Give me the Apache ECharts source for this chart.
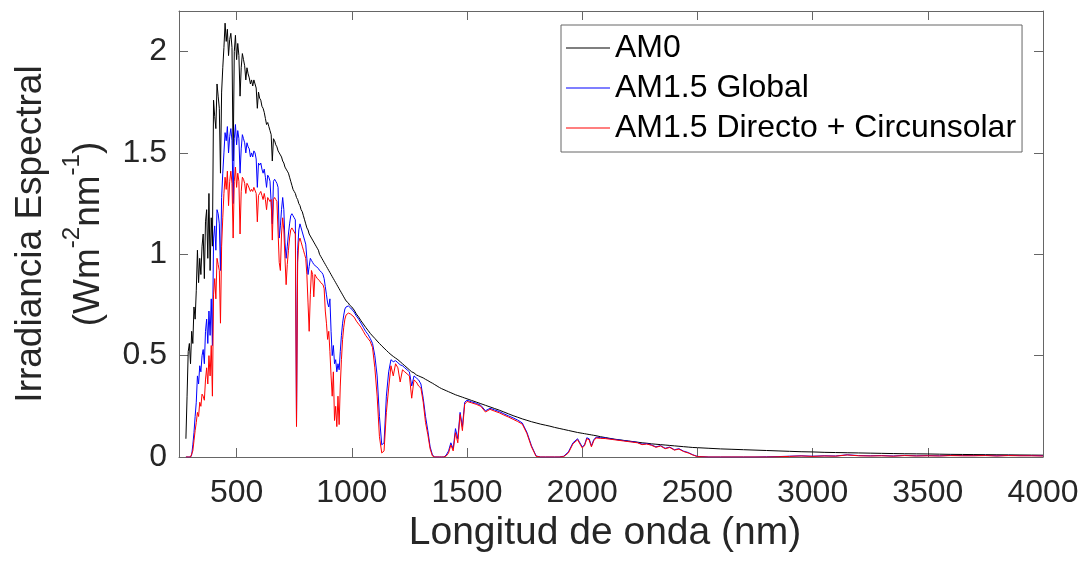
<!DOCTYPE html>
<html>
<head>
<meta charset="utf-8">
<script src="https://cdn.jsdelivr.net/npm/echarts@6/dist/echarts.min.js"></script>
<style>
html,body{margin:0;padding:0;background:#fff;}
#chart{width:1085px;height:563px;}
</style>
</head>
<body>
<div id="chart"></div>
<script>
// ---- Data ----
const wavelength = [
  280,285,290,295,300,305,310,315,320,325,
  330,335,340,345,350,355,360,365,370,375,
  380,385,390,395,400,405,410,415,420,425,
  430,435,440,445,450,455,460,465,470,475,
  480,485,490,495,500,505,510,515,520,525,
  530,535,540,545,550,555,560,565,570,575,
  580,585,590,595,600,605,610,615,620,625,
  630,635,640,645,650,655,660,665,670,675,
  680,685,690,695,700,705,710,715,720,725,
  730,735,740,745,750,755,760,765,770,775,
  780,785,790,795,800,805,810,815,820,825,
  830,835,840,845,850,855,860,865,870,875,
  880,885,890,895,900,905,910,915,920,925,
  930,935,940,945,950,955,960,965,970,975,
  980,985,990,995,
  1000,1010,1020,1030,1040,1050,1060,1070,1080,1090,
  1100,1110,1120,1130,1140,1150,1160,1170,1180,1190,
  1200,1210,1220,1230,1240,1250,1260,1270,1280,1290,
  1300,1310,1320,1330,1340,1350,1360,1370,1380,1390,
  1400,1410,1420,1430,1440,1450,1460,1470,1480,1490,
  1500,1520,1540,1560,1580,1600,1620,1640,1660,1680,
  1700,1720,1740,1760,1780,1800,1820,1840,1860,1880,
  1900,1920,1940,1960,1980,
  2000,2010,2020,2030,2040,2050,2060,
  2080,2100,2120,2140,2160,2180,2200,2220,2240,2260,
  2280,2300,2320,2340,2360,2380,2400,2420,2440,2460,
  2480,2500,
  2550,2600,2650,2700,2750,2800,2850,2900,2950,3000,
  3050,3100,3150,3200,3250,3300,3350,3400,3450,3500,
  3550,3600,3650,3700,3750,3800,3850,3900,3950,4000
];

const am0 = [
  0.09,0.30,0.52,0.56,0.46,0.62,0.56,0.74,0.68,0.82,
  1.02,0.86,0.98,0.90,1.04,1.10,0.88,1.16,1.22,0.98,
  1.30,0.92,1.18,1.04,1.76,1.68,1.62,1.84,1.78,1.72,
  1.40,1.80,1.92,2.02,2.14,2.05,2.11,1.98,2.06,2.09,
  2.02,1.46,2.00,2.08,1.96,2.04,1.98,1.78,1.92,1.99,
  1.96,1.93,1.86,1.92,1.89,1.87,1.84,1.86,1.83,1.86,
  1.84,1.82,1.72,1.80,1.77,1.76,1.73,1.72,1.70,1.67,
  1.64,1.65,1.63,1.61,1.59,1.46,1.57,1.56,1.54,1.53,
  1.51,1.50,1.49,1.48,1.46,1.45,1.43,1.42,1.41,1.40,
  1.38,1.36,1.34,1.32,1.31,1.30,1.28,1.27,1.25,1.24,
  1.22,1.21,1.19,1.17,1.15,1.13,1.12,1.10,1.09,1.08,
  1.07,1.06,1.05,1.04,1.03,1.02,1.00,0.99,0.98,0.97,
  0.96,0.95,0.94,0.93,0.92,0.91,0.90,0.89,0.88,0.87,
  0.86,0.85,0.84,0.83,0.82,0.81,0.80,0.79,0.78,0.77,
  0.765,0.76,0.75,0.745,
  0.74,0.725,0.705,0.69,0.672,0.656,0.64,0.625,0.61,0.597,
  0.585,0.572,0.56,0.548,0.537,0.526,0.515,0.505,0.496,0.488,
  0.48,0.47,0.46,0.45,0.44,0.43,0.42,0.415,0.405,0.40,
  0.395,0.39,0.383,0.377,0.37,0.364,0.357,0.35,0.343,0.337,
  0.332,0.327,0.322,0.317,0.312,0.307,0.303,0.299,0.295,0.291,
  0.287,0.279,0.271,0.263,0.255,0.247,0.239,0.231,0.222,0.213,
  0.204,0.196,0.188,0.181,0.174,0.168,0.162,0.157,0.152,0.146,
  0.141,0.136,0.131,0.126,0.121,
  0.117,0.115,0.113,0.111,0.109,0.107,0.105,
  0.100,0.096,0.092,0.088,0.085,0.082,0.079,0.076,0.073,0.070,
  0.068,0.065,0.063,0.061,0.059,0.057,0.055,0.053,0.051,0.049,
  0.047,0.046,
  0.043,0.040,0.038,0.036,0.034,0.032,0.030,0.028,0.026,0.025,
  0.023,0.022,0.021,0.020,0.019,0.018,0.017,0.016,0.0155,0.015,
  0.014,0.013,0.0125,0.012,0.0115,0.011,0.0105,0.010,0.0095,0.009
];

const am15Global = [
  0,0,0,0,0,0.01,0.06,0.12,0.20,0.27,
  0.40,0.36,0.45,0.42,0.50,0.53,0.46,0.62,0.68,0.56,
  0.72,0.60,0.78,0.55,1.08,1.14,1.02,1.22,1.20,1.15,
  0.92,1.28,1.40,1.50,1.60,1.56,1.63,1.50,1.58,1.62,
  1.56,1.25,1.57,1.64,1.54,1.61,1.57,1.40,1.52,1.59,
  1.57,1.55,1.50,1.55,1.53,1.52,1.48,1.50,1.48,1.51,
  1.50,1.47,1.33,1.45,1.44,1.45,1.42,1.40,1.42,1.38,
  1.33,1.39,1.38,1.36,1.36,1.15,1.36,1.37,1.36,1.35,
  1.33,1.08,1.14,1.22,1.28,1.22,1.06,0.98,1.04,1.10,
  1.15,1.19,1.20,1.19,1.18,1.17,0.16,1.02,1.12,1.15,
  1.13,1.11,1.09,1.07,1.05,0.98,0.90,0.94,0.98,0.97,
  0.96,0.95,0.95,0.94,0.94,0.93,0.92,0.92,0.91,0.90,
  0.88,0.84,0.80,0.76,0.74,0.78,0.62,0.50,0.55,0.46,
  0.48,0.42,0.46,0.43,0.52,0.60,0.66,0.70,0.73,0.74,
  0.74,0.745,0.74,0.735,
  0.73,0.715,0.695,0.68,0.66,0.64,0.62,0.605,0.585,0.56,
  0.50,0.40,0.20,0.06,0.07,0.30,0.42,0.48,0.47,0.475,
  0.465,0.455,0.45,0.44,0.43,0.42,0.35,0.40,0.39,0.38,
  0.36,0.29,0.20,0.13,0.05,0.01,0,0,0,0,
  0,0.01,0.03,0.07,0.04,0.14,0.09,0.22,0.15,0.27,
  0.28,0.272,0.265,0.255,0.228,0.24,0.232,0.224,0.213,0.203,
  0.193,0.182,0.168,0.122,0.055,0.005,0,0,0,0,
  0,0.004,0.025,0.07,0.09,
  0.05,0.06,0.095,0.09,0.055,0.085,0.098,
  0.095,0.094,0.09,0.087,0.084,0.081,0.078,0.075,0.072,0.063,
  0.066,0.06,0.05,0.056,0.043,0.049,0.036,0.041,0.029,0.022,
  0.011,0.003,
  0,0,0,0,0,0.001,0.002,0.004,0.006,0.004,
  0.006,0.005,0.011,0.007,0.006,0.007,0.005,0.008,0.006,0.007,
  0.006,0.008,0.007,0.007,0.008,0.006,0.008,0.007,0.007,0.006
];

const am15Direct = [
  0,0,0,0,0,0,0.03,0.08,0.13,0.17,
  0.22,0.20,0.27,0.25,0.31,0.30,0.28,0.38,0.44,0.36,
  0.50,0.40,0.55,0.30,0.80,0.88,0.78,0.98,0.95,0.92,
  0.66,1.04,1.18,1.30,1.38,1.32,1.41,1.24,1.36,1.41,
  1.35,1.08,1.36,1.43,1.33,1.40,1.36,1.10,1.31,1.38,
  1.37,1.35,1.30,1.35,1.34,1.34,1.31,1.32,1.31,1.33,
  1.33,1.30,1.16,1.29,1.30,1.31,1.29,1.27,1.30,1.27,
  1.22,1.28,1.28,1.26,1.27,1.07,1.27,1.28,1.27,1.26,
  1.26,0.96,0.92,1.10,1.18,1.12,0.98,0.85,0.95,1.02,
  1.08,1.12,1.13,1.12,1.11,1.10,0.15,0.96,1.06,1.08,
  1.06,1.04,1.02,1.00,0.98,0.90,0.76,0.62,0.80,0.92,
  0.90,0.79,0.90,0.89,0.88,0.88,0.87,0.86,0.86,0.85,
  0.83,0.72,0.66,0.58,0.62,0.52,0.40,0.30,0.42,0.18,
  0.25,0.15,0.30,0.16,0.35,0.48,0.58,0.64,0.68,0.70,
  0.70,0.71,0.71,0.705,
  0.70,0.69,0.67,0.655,0.64,0.62,0.60,0.585,0.57,0.54,
  0.44,0.30,0.10,0.02,0.03,0.22,0.34,0.45,0.40,0.46,
  0.44,0.37,0.43,0.42,0.41,0.40,0.29,0.38,0.37,0.35,
  0.34,0.27,0.17,0.11,0.04,0.005,0,0,0,0,
  0,0.005,0.02,0.06,0.03,0.12,0.07,0.21,0.13,0.26,
  0.274,0.267,0.26,0.25,0.222,0.235,0.226,0.218,0.207,0.197,
  0.186,0.175,0.162,0.116,0.05,0.003,0,0,0,0,
  0,0.002,0.02,0.065,0.085,
  0.045,0.055,0.09,0.085,0.05,0.08,0.094,
  0.092,0.091,0.088,0.085,0.082,0.079,0.076,0.073,0.07,0.061,
  0.064,0.058,0.048,0.054,0.041,0.047,0.034,0.039,0.027,0.02,
  0.01,0.002,
  0,0,0,0,0,0,0.001,0.003,0.005,0.003,
  0.005,0.004,0.01,0.006,0.005,0.006,0.004,0.007,0.005,0.006,
  0.005,0.007,0.006,0.006,0.007,0.005,0.007,0.006,0.006,0.005
];

const seriesNames = ['AM0', 'AM1.5 Global', 'AM1.5 Directo + Circunsolar'];
const xTicks = [500, 1000, 1500, 2000, 2500, 3000, 3500, 4000];
const yTicks = [0, 0.5, 1, 1.5, 2];

// ---- Chart ----
const FONT = '"Liberation Sans", Arial, Helvetica, sans-serif';
const AXIS_COLOR = '#666666';
const TEXT_COLOR = '#262626';

function pairs(values) {
  return wavelength.map(function (w, i) { return [w, values[i]]; });
}

const chart = echarts.init(document.getElementById('chart'), null, { renderer: 'canvas' });

const axisLineStyle = { show: true, onZero: false, lineStyle: { color: AXIS_COLOR, width: 1 } };

const option = {
  backgroundColor: '#ffffff',
  animation: false,
  grid: { left: 179, right: 42, top: 11, bottom: 106, containLabel: false },
  legend: {
    orient: 'vertical',
    left: 561,
    top: 25,
    padding: [5, 6, 6, 5],
    itemGap: 4,
    itemWidth: 44,
    itemHeight: 1,
    icon: 'rect',
    backgroundColor: '#ffffff',
    borderColor: AXIS_COLOR,
    borderWidth: 1,
    borderRadius: 0,
    textStyle: { fontSize: 32, lineHeight: 30, padding: [6, 0, 0, 0], color: '#000000', fontFamily: FONT },
    data: seriesNames
  },
  xAxis: [
    {
      type: 'value', min: 250, max: 4000, position: 'bottom',
      axisLine: axisLineStyle,
      axisTick: { show: true, inside: true, length: 9, customValues: xTicks, lineStyle: { color: AXIS_COLOR } },
      axisLabel: {
        customValues: xTicks, fontSize: 32, lineHeight: 32, margin: 20, color: TEXT_COLOR, fontFamily: FONT,
        formatter: function (v) { return String(v); }
      },
      splitLine: { show: false },
      name: 'Longitud de onda (nm)',
      nameLocation: 'middle',
      nameGap: 54,
      nameTextStyle: { fontSize: 39, lineHeight: 39, color: TEXT_COLOR, fontFamily: FONT, padding: [0, 12, 0, 0] }
    },
    {
      type: 'value', min: 250, max: 4000, position: 'top',
      axisLine: axisLineStyle,
      axisTick: { show: true, inside: true, length: 9, customValues: xTicks, lineStyle: { color: AXIS_COLOR } },
      axisLabel: { show: false },
      splitLine: { show: false }
    }
  ],
  yAxis: [
    {
      type: 'value', min: 0, max: 2.2, position: 'left',
      axisLine: axisLineStyle,
      axisTick: { show: true, inside: true, length: 9, customValues: yTicks, lineStyle: { color: AXIS_COLOR } },
      axisLabel: {
        customValues: yTicks, fontSize: 32, lineHeight: 32, margin: 12, color: TEXT_COLOR, fontFamily: FONT, padding: [6, 0, 0, 0],
        formatter: function (v) { return String(v); }
      },
      splitLine: { show: false },
      name: '{t|Irradiancia Espectral}\n{t|(Wm}{s|-2}{t|nm}{s|-1}{t|)}',
      nameLocation: 'middle',
      nameRotate: 90,
      nameGap: 61,
      nameTextStyle: {
        color: TEXT_COLOR,
        fontFamily: FONT,
        rich: {
          t: { fontSize: 37, lineHeight: 58, color: TEXT_COLOR, fontFamily: FONT },
          s: { fontSize: 24, lineHeight: 36, verticalAlign: 'top', color: TEXT_COLOR, fontFamily: FONT }
        }
      }
    },
    {
      type: 'value', min: 0, max: 2.2, position: 'right',
      axisLine: axisLineStyle,
      axisTick: { show: true, inside: true, length: 9, customValues: yTicks, lineStyle: { color: AXIS_COLOR } },
      axisLabel: { show: false },
      splitLine: { show: false }
    }
  ],
  series: [
    {
      name: seriesNames[0], type: 'line', xAxisIndex: 0, yAxisIndex: 0,
      data: pairs(am0), symbol: 'none', showSymbol: false,
      lineStyle: { color: '#000000', width: 1 }, itemStyle: { color: '#000000' }
    },
    {
      name: seriesNames[1], type: 'line', xAxisIndex: 0, yAxisIndex: 0,
      data: pairs(am15Global), symbol: 'none', showSymbol: false,
      lineStyle: { color: '#0000ff', width: 1 }, itemStyle: { color: '#0000ff' }
    },
    {
      name: seriesNames[2], type: 'line', xAxisIndex: 0, yAxisIndex: 0,
      data: pairs(am15Direct), symbol: 'none', showSymbol: false,
      lineStyle: { color: '#ff0000', width: 1 }, itemStyle: { color: '#ff0000' }
    }
  ]
};

chart.setOption(option);
</script>
</body>
</html>
